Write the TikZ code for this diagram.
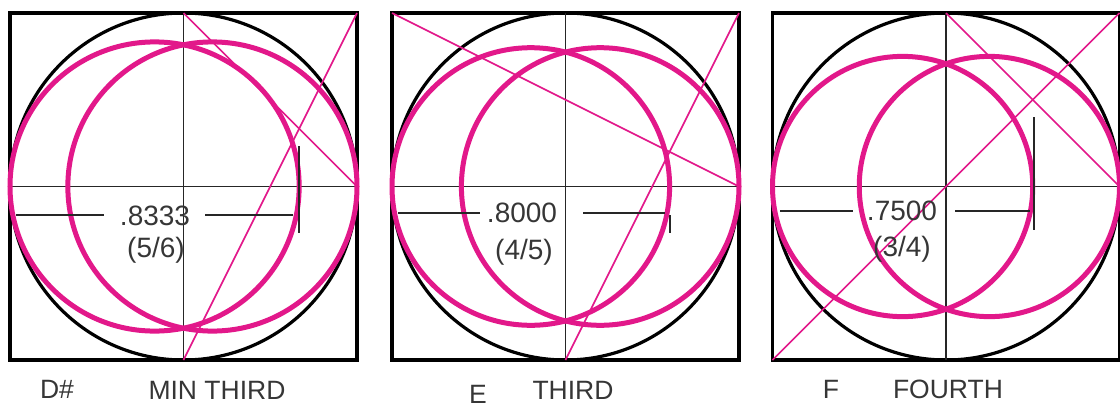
\documentclass[tikz,border=0pt]{standalone}
\usepackage{fontspec}
\setmainfont{Liberation Sans}
\usepackage{tikz}
\usepackage{xcolor}
\definecolor{ratiopink}{HTML}{E2188A}
\definecolor{inkgray}{HTML}{363636}
\tikzset{
  frame/.style={draw=black, line width=3.5pt},
  unitcircle/.style={draw=black, line width=3.2pt},
  axis/.style={draw=black!85, line width=1.3pt},
  pinkring/.style={draw=ratiopink, line width=5pt},
  pinkline/.style={draw=ratiopink, line width=1.6pt},
  dimline/.style={draw=black!85, line width=1.3pt},
  ratiotext/.style={text=inkgray, inner sep=0pt, font=\fontsize{28}{30}\selectfont},
  notetext/.style={text=inkgray, inner sep=0pt, font=\fontsize{26.5}{28}\selectfont}
}

\begin{document}
\begin{tikzpicture}[x=1pt,y=-1pt]
\useasboundingbox (0,0) rectangle (1120,408);
% three panels: centre x, ratio of the small circles
\foreach \n/\cx/\ratio in {1/183.5/0.8333, 2/565.5/0.8, 3/946/0.75} {
  \pgfmathsetmacro{\rho}{173.5*\ratio}
  \pgfmathsetmacro{\shift}{173.5-\rho}
  \coordinate (p\n-c) at (\cx,186.5);
  \coordinate (p\n-t) at (\cx,13);
  \coordinate (p\n-b) at (\cx,360);
  \coordinate (p\n-l) at (\cx-173.5,186.5);
  \coordinate (p\n-r) at (\cx+173.5,186.5);
  \coordinate (p\n-tl) at (\cx-173.5,13);
  \coordinate (p\n-tr) at (\cx+173.5,13);
  \coordinate (p\n-bl) at (\cx-173.5,360);
  \coordinate (p\n-br) at (\cx+173.5,360);
  \path[frame] (p\n-tl) rectangle (p\n-br);
  \path[unitcircle] (p\n-c) circle[radius=173.5];
  \path[axis] (p\n-t) -- (p\n-b);
  \path[axis] (p\n-l) -- (p\n-r);
  \path[pinkring] (\cx-\shift,186.5) circle[radius=\rho];
  \path[pinkring] (\cx+\shift,186.5) circle[radius=\rho];
}
% diagonals
\path[pinkline] (p1-t) -- (p1-r);
\path[pinkline] (p1-tr) -- (p1-b);
\path[pinkline] (p2-tl) -- (p2-r);
\path[pinkline] (p2-tr) -- (p2-b);
\path[pinkline] (p3-t) -- (p3-r);
\path[pinkline] (p3-bl) -- (p3-tr);
% ratio marks
\node[ratiotext] (dec1) at (155,216) {.8333};
\node[ratiotext] (frac1) at (156,250) {(5/6)};
\node[ratiotext] (dec2) at (522,213) {.8000};
\node[ratiotext] (frac2) at (524,252) {(4/5)};
\node[ratiotext] (dec3) at (902,211) {.7500};
\node[ratiotext] (frac3) at (902,249) {(3/4)};
\path[dimline] (16,215) -- (104,215);
\path[dimline] (205,215) -- (293,215);
\path[dimline] (299,146) -- (299,233);
\path[dimline] (398,213) -- (480,213);
\path[dimline] (583,213) -- (665,213);
\path[dimline] (670,215) -- (670,233);
\path[dimline] (780,211) -- (853,211);
\path[dimline] (955,211) -- (1030,211);
\path[dimline] (1034,117) -- (1034,230);
% note names and intervals
\node[notetext] (note1) at (57,389) {D\#};
\node[notetext] (name1) at (217,390) {MIN THIRD};
\node[notetext] (note2) at (478,394) {E};
\node[notetext] (name2) at (573,390) {THIRD};
\node[notetext] (note3) at (831,389) {F};
\node[notetext] (name3) at (948,389) {FOURTH};
\end{tikzpicture}
\end{document}
